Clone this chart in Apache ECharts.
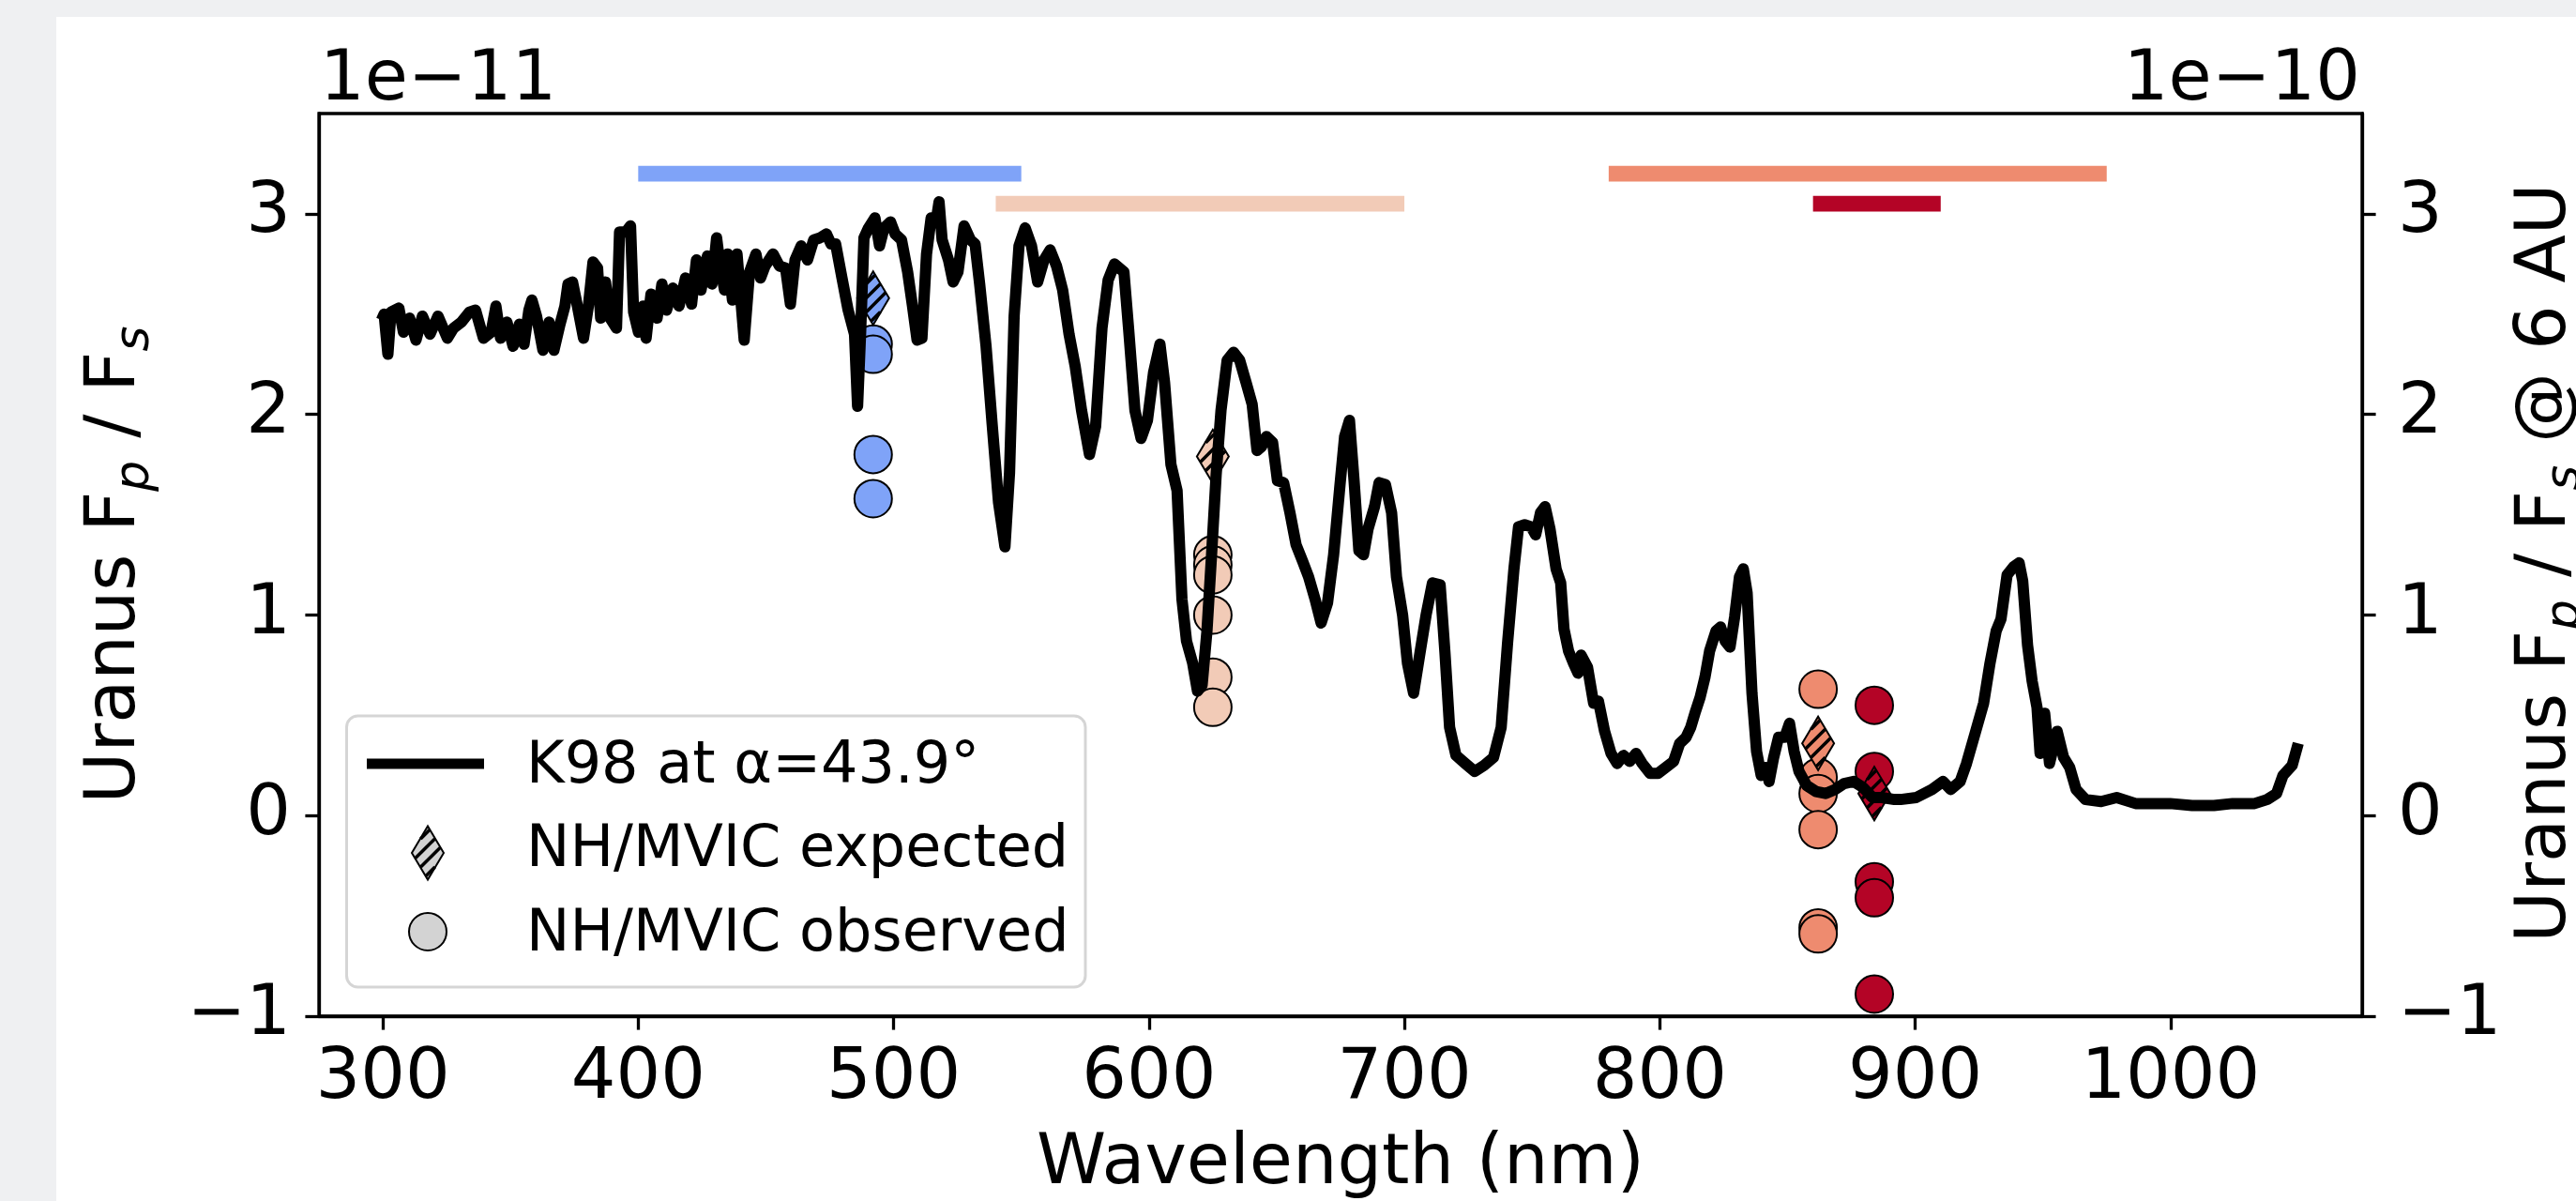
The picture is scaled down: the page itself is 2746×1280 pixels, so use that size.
<!DOCTYPE html>
<html>
<head>
<meta charset="utf-8">
<script src="https://cdn.jsdelivr.net/npm/echarts@6/dist/echarts.min.js"></script>
<style>
  html, body { margin: 0; padding: 0; background: #eff0f2; }
  #paper { position: absolute; left: 60px; top: 18px; width: 2686px; height: 1262px; background: #ffffff; }
  #chart { position: absolute; left: 0; top: 0; width: 2746px; height: 1280px; }
</style>
</head>
<body>
<div id="paper"></div>
<div id="chart"></div>
<script>
// K98 model spectrum: wavelength (nm) and Uranus Fp/Fs in units of 1e-11
var wavelengths = [
  299.5, 300.5, 302.0, 303.2, 306.3, 308.1, 310.5, 313.0, 315.5, 318.5,
  321.6, 325.3, 327.7, 330.8, 333.9, 336.3, 339.4, 342.4, 344.3, 346.1,
  348.6, 351.0, 353.5, 355.3, 357.2, 358.4, 360.2, 362.7, 365.1, 367.0,
  369.4, 371.3, 372.5, 374.3, 376.2, 378.6, 380.5, 382.3, 384.1, 385.3,
  387.2, 389.0, 391.5, 392.7, 395.2, 397.0, 398.2, 400.1, 401.9, 403.1,
  405.0, 407.4, 409.3, 411.1, 413.6, 416.0, 418.5, 420.9, 422.8, 424.6,
  427.1, 428.9, 430.7, 431.9, 433.8, 435.0, 436.9, 438.7, 441.5, 443.6,
  446.1, 447.9, 449.7, 452.8, 455.3, 457.7, 459.6, 461.4, 463.8, 466.3,
  468.7, 471.2, 473.7, 475.5, 477.3, 479.8, 482.2, 484.7, 485.9, 487.1,
  488.4, 490.2, 492.7, 494.5, 496.3, 498.8, 500.6, 503.1, 505.5, 507.4,
  509.2, 511.1, 512.9, 514.7, 516.6, 517.8, 519.0, 521.5, 523.3, 525.2,
  527.6, 530.1, 531.9, 533.7, 536.2, 538.6, 541.1, 543.6, 545.4, 547.2,
  549.1, 551.5, 554.0, 556.4, 558.9, 561.3, 563.8, 566.2, 568.7, 571.1,
  573.6, 576.7, 579.1, 581.6, 584.0, 586.5, 590.2, 592.0, 594.5, 596.9,
  599.4, 601.8, 604.3, 606.1, 608.6, 611.0, 612.9, 614.7, 617.1, 619.0,
  620.8, 622.7, 624.5, 626.3, 628.2, 630.6, 633.1, 635.5, 638.0, 640.4,
  642.3, 644.1, 646.0, 648.4, 650.3, 652.7, 655.2, 657.6, 660.1, 662.5,
  665.0, 667.4, 669.9, 672.3, 674.8, 676.6, 678.5, 680.3, 682.2, 684.0,
  685.8, 688.3, 690.1, 692.6, 695.0, 696.9, 699.3, 701.2, 703.6, 706.1,
  708.5, 711.0, 714.0, 715.9, 717.7, 720.2, 723.8, 727.5, 731.2, 734.9,
  737.9, 740.4, 742.9, 744.7, 747.1, 749.6, 751.4, 753.3, 755.1, 757.0,
  759.4, 761.2, 762.5, 764.3, 766.2, 768.0, 769.2, 771.7, 774.1, 776.0,
  778.4, 780.9, 783.3, 785.8, 788.2, 790.7, 793.1, 796.2, 799.3, 802.3,
  805.4, 807.8, 810.3, 812.1, 814.0, 815.8, 817.7, 819.5, 822.0, 823.8,
  825.6, 827.5, 829.3, 831.2, 832.7, 834.2, 836.1, 837.9, 839.7, 841.6,
  842.8, 844.6, 846.5, 848.9, 850.8, 852.6, 854.5, 857.5, 861.2, 864.9,
  868.6, 872.2, 875.9, 879.6, 883.3, 887.0, 891.9, 894.3, 900.4, 906.6,
  910.9, 913.9, 917.6, 920.1, 923.7, 926.8, 929.3, 931.7, 933.6, 936.0,
  938.5, 940.7, 942.1, 944.0, 945.8, 947.7, 948.9, 950.7, 952.6, 955.6,
  958.1, 960.5, 963.0, 966.7, 972.8, 978.9, 986.3, 992.4, 999.8, 1008.4,
  1017.0, 1024.3, 1032.9, 1037.8, 1041.5, 1044.0, 1047.6, 1050.0
];
var k98Flux = [
  2.47, 2.50, 2.30, 2.51, 2.53, 2.41, 2.48, 2.37, 2.49, 2.40,
  2.49, 2.38, 2.43, 2.46, 2.51, 2.52, 2.38, 2.41, 2.54, 2.38,
  2.46, 2.34, 2.45, 2.35, 2.52, 2.57, 2.49, 2.32, 2.46, 2.32,
  2.45, 2.54, 2.65, 2.66, 2.54, 2.38, 2.54, 2.76, 2.73, 2.48,
  2.66, 2.48, 2.43, 2.91, 2.91, 2.94, 2.51, 2.41, 2.54, 2.38,
  2.60, 2.48, 2.65, 2.52, 2.63, 2.54, 2.68, 2.55, 2.77, 2.62,
  2.79, 2.65, 2.88, 2.76, 2.62, 2.80, 2.57, 2.80, 2.37, 2.71,
  2.80, 2.68, 2.74, 2.80, 2.74, 2.73, 2.55, 2.77, 2.84, 2.77,
  2.87, 2.88, 2.90, 2.85, 2.85, 2.68, 2.52, 2.40, 2.04, 2.41,
  2.88, 2.93, 2.98, 2.84, 2.93, 2.96, 2.90, 2.87, 2.71, 2.54,
  2.37, 2.38, 2.80, 2.98, 2.96, 3.06, 2.87, 2.77, 2.66, 2.71,
  2.94, 2.87, 2.85, 2.65, 2.34, 1.95, 1.56, 1.34, 1.71, 2.49,
  2.84, 2.93, 2.84, 2.66, 2.77, 2.82, 2.74, 2.62, 2.40, 2.24,
  2.02, 1.80, 1.94, 2.43, 2.67, 2.75, 2.71, 2.43, 2.02, 1.88,
  1.97, 2.21, 2.35, 2.16, 1.75, 1.62, 1.08, 0.87, 0.76, 0.62,
  0.65, 0.92, 1.30, 1.70, 2.02, 2.27, 2.31, 2.27, 2.16, 2.05,
  1.82, 1.84, 1.89, 1.86, 1.67, 1.66, 1.51, 1.35, 1.27, 1.19,
  1.08, 0.96, 1.06, 1.30, 1.65, 1.89, 1.97, 1.67, 1.32, 1.30,
  1.43, 1.54, 1.66, 1.65, 1.51, 1.19, 1.00, 0.76, 0.61, 0.81,
  1.00, 1.16, 1.15, 0.81, 0.44, 0.30, 0.26, 0.22, 0.25, 0.29,
  0.44, 0.86, 1.23, 1.44, 1.45, 1.44, 1.40, 1.51, 1.54, 1.43,
  1.23, 1.16, 0.93, 0.82, 0.76, 0.71, 0.80, 0.74, 0.56, 0.57,
  0.42, 0.31, 0.26, 0.30, 0.27, 0.31, 0.26, 0.21, 0.21, 0.24,
  0.27, 0.36, 0.39, 0.44, 0.52, 0.59, 0.69, 0.82, 0.92, 0.94,
  0.87, 0.84, 0.99, 1.19, 1.23, 1.11, 0.61, 0.32, 0.20, 0.24,
  0.17, 0.29, 0.39, 0.39, 0.46, 0.32, 0.22, 0.15, 0.12, 0.11,
  0.13, 0.16, 0.17, 0.14, 0.09, 0.09, 0.08, 0.08, 0.09, 0.13,
  0.17, 0.13, 0.17, 0.26, 0.42, 0.56, 0.76, 0.92, 0.98, 1.20,
  1.24, 1.26, 1.17, 0.85, 0.67, 0.54, 0.31, 0.51, 0.26, 0.42,
  0.29, 0.24, 0.13, 0.08, 0.07, 0.09, 0.06, 0.06, 0.06, 0.05,
  0.05, 0.06, 0.06, 0.08, 0.11, 0.20, 0.25, 0.36
];

// MVIC filter bandpasses (bars along the top)
var filterNames = ['Blue', 'Red', 'NIR', 'CH4'];
var filterColors = ['#7fa3f8', '#f2cbb7', '#ee8b6f', '#b40426'];
var filterStart = [400, 540, 780, 860];
var filterEnd = [550, 700, 975, 910];
var filterLevel = [3.2, 3.05, 3.2, 3.05];

// NH/MVIC photometry per filter
var mvicPivot = [492, 625, 862, 884];
var mvicExpected = [2.58, 1.79, 0.36, 0.11];
var mvicObserved = [
  [2.35, 2.30, 1.80, 1.58],
  [1.30, 1.25, 1.20, 1.00, 0.69, 0.54],
  [0.63, 0.19, 0.11, -0.07, -0.56, -0.59],
  [0.55, 0.22, -0.33, -0.41, -0.89]
];

var xTicks = [300, 400, 500, 600, 700, 800, 900, 1000];
var yTicks = [-1, 0, 1, 2, 3];

var FONT = 'DejaVu Sans';

// thin diamond with '/' hatching, like matplotlib's 'd' marker with hatch
function hatchSpan(k, a, b) {
  var lo = null, hi = null;
  for (var t = -a; t <= a; t += 0.05) {
    if (Math.abs(t) / a + Math.abs(k - t) / b <= 0.97) {
      if (lo === null) lo = t;
      hi = t;
    }
  }
  return lo === null ? null : [lo, hi];
}
function diamondGroup(cx, cy, color, z) {
  var a = 17, b = 28.5;
  var pts = [[cx, cy - b], [cx + a, cy], [cx, cy + b], [cx - a, cy]];
  var children = [{ type: 'polygon', z: z, shape: { points: pts }, style: { fill: color } }];
  [-22.5, -7.5, 7.5, 22.5].forEach(function (k) {
    var s = hatchSpan(k, a, b);
    if (!s) return;
    children.push({
      type: 'line', z: z,
      shape: { x1: cx + s[0], y1: cy + k - s[0], x2: cx + s[1], y2: cy + k - s[1] },
      style: { stroke: '#000', lineWidth: 3.5 }
    });
  });
  children.push({ type: 'polygon', z: z, shape: { points: pts }, style: { fill: 'none', stroke: '#000', lineWidth: 2 } });
  return { type: 'group', children: children };
}

function minusFmt(v) { return String(v).replace('-', '\u2212'); }

var chart = echarts.init(document.getElementById('chart'));

var series = [];
filterStart.forEach(function (s, i) {
  series.push({
    type: 'line', name: filterNames[i],
    data: [[s, filterLevel[i]], [filterEnd[i], filterLevel[i]]],
    symbol: 'none', silent: true, z: 2,
    lineStyle: { color: filterColors[i], width: 16.7, cap: 'butt' }
  });
});
mvicObserved.forEach(function (vals, i) {
  series.push({
    type: 'scatter', name: 'NH/MVIC observed',
    data: vals.map(function (v) { return [mvicPivot[i], v]; }),
    symbol: 'circle', symbolSize: 40, z: 3,
    itemStyle: { color: filterColors[i], borderColor: '#000', borderWidth: 2, opacity: 1 },
    emphasis: { disabled: true }
  });
});
series.push({
  type: 'custom', name: 'NH/MVIC expected', z: 4,
  data: mvicPivot.map(function (x, i) { return [x, mvicExpected[i], i]; }),
  encode: { x: 0, y: 1 },
  renderItem: function (params, api) {
    var c = api.coord([api.value(0), api.value(1)]);
    return diamondGroup(c[0], c[1], filterColors[api.value(2)]);
  }
});
series.push({
  type: 'line', name: 'K98 at \u03b1=43.9\u00b0', z: 5,
  data: wavelengths.map(function (w, i) { return [w, k98Flux[i]]; }),
  symbol: 'none', silent: true,
  lineStyle: { color: '#000', width: 12, join: 'round' }
});

var tickLabel = { fontSize: 75, fontFamily: FONT, color: '#000', margin: 30, formatter: minusFmt };

var option = {
  animation: false,
  backgroundColor: 'transparent',
  grid: {
    left: 340, right: 228, top: 121, bottom: 197,
    show: true, borderColor: '#000', borderWidth: 3.3, backgroundColor: 'transparent',
    outerBoundsMode: 'none'
  },
  xAxis: {
    type: 'value', min: 275, max: 1075,
    axisLine: { show: true, onZero: false, lineStyle: { color: '#000', width: 3.3 } },
    axisTick: { show: true, length: 14.6, lineStyle: { color: '#000', width: 3.3 }, customValues: xTicks },
    axisLabel: Object.assign({}, tickLabel, { customValues: xTicks }),
    splitLine: { show: false }
  },
  yAxis: [
    {
      type: 'value', min: -1, max: 3.5, position: 'left',
      axisLine: { show: true, onZero: false, lineStyle: { color: '#000', width: 3.3 } },
      axisTick: { show: true, length: 14.6, lineStyle: { color: '#000', width: 3.3 }, customValues: yTicks },
      axisLabel: Object.assign({}, tickLabel, { customValues: yTicks }),
      splitLine: { show: false }
    },
    {
      type: 'value', min: -1, max: 3.5, position: 'right',
      axisLine: { show: true, onZero: false, lineStyle: { color: '#000', width: 3.3 } },
      axisTick: { show: true, length: 14.6, lineStyle: { color: '#000', width: 3.3 }, customValues: yTicks },
      axisLabel: Object.assign({}, tickLabel, { customValues: yTicks, margin: 38 }),
      splitLine: { show: false }
    }
  ],
  series: series,
  graphic: [
    { type: 'text', x: 341, y: 87, z: 50,
      style: { text: '1e\u221211', fontSize: 75, fontFamily: FONT, fill: '#000', align: 'left', verticalAlign: 'middle' } },
    { type: 'text', x: 2516, y: 87, z: 50,
      style: { text: '1e\u221210', fontSize: 75, fontFamily: FONT, fill: '#000', align: 'right', verticalAlign: 'middle' } },
    { type: 'text', x: 1429, y: 1242, z: 50,
      style: { text: 'Wavelength (nm)', fontSize: 75, fontFamily: FONT, fill: '#000', align: 'center', verticalAlign: 'middle' } },
    { type: 'text', x: 124, y: 602, rotation: Math.PI / 2, z: 50,
      style: {
        text: '{m|Uranus F}{s|p}{m| / F}{s|s}', align: 'center', verticalAlign: 'middle', fill: '#000',
        rich: {
          m: { fontSize: 75, fontFamily: FONT, lineHeight: 90 },
          s: { fontSize: 52, fontFamily: FONT, fontStyle: 'italic', padding: [40, 0, 0, 0] }
        }
      } },
    { type: 'text', x: 2715, y: 600, rotation: Math.PI / 2, z: 50,
      style: {
        text: '{m|Uranus F}{s|p}{m| / F}{s|s}{m| @ 6 AU}', align: 'center', verticalAlign: 'middle', fill: '#000',
        rich: {
          m: { fontSize: 75, fontFamily: FONT, lineHeight: 90 },
          s: { fontSize: 52, fontFamily: FONT, fontStyle: 'italic', padding: [40, 0, 0, 0] }
        }
      } },
    // legend
    { type: 'group', z: 60, children: [
      { type: 'rect', z: 60, shape: { x: 369.5, y: 763, width: 787.5, height: 289, r: 12 },
        style: { fill: 'rgba(255,255,255,0.8)', stroke: '#d5d5d5', lineWidth: 3 } },
      { type: 'line', z: 61, shape: { x1: 391, y1: 814, x2: 516, y2: 814 },
        style: { stroke: '#000', lineWidth: 11 } },
      diamondGroup(456, 909, '#d3d3d3', 61),
      { type: 'circle', z: 61, shape: { cx: 456, cy: 993, r: 20 },
        style: { fill: '#d3d3d3', stroke: '#000', lineWidth: 2 } },
      { type: 'text', z: 61, x: 561, y: 818,
        style: { text: 'K98 at \u03b1=43.9\u00b0', fontSize: 62, fontFamily: FONT, fill: '#000', align: 'left', verticalAlign: 'middle' } },
      { type: 'text', z: 61, x: 561, y: 907,
        style: { text: 'NH/MVIC expected', fontSize: 62, fontFamily: FONT, fill: '#000', align: 'left', verticalAlign: 'middle' } },
      { type: 'text', z: 61, x: 561, y: 997,
        style: { text: 'NH/MVIC observed', fontSize: 62, fontFamily: FONT, fill: '#000', align: 'left', verticalAlign: 'middle' } }
    ] }
  ]
};

chart.setOption(option);

window.addEventListener('resize', function () {
  chart.resize();
});
</script>
</body>
</html>
